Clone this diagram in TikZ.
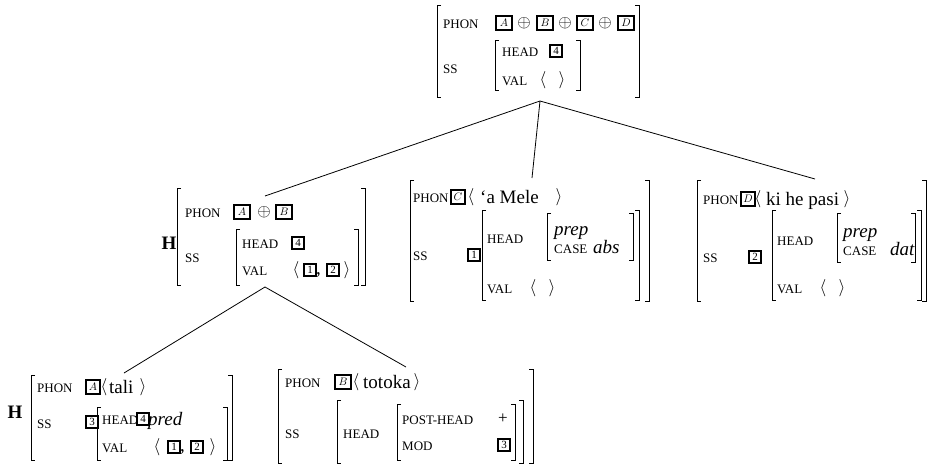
\documentclass[tikz,border=0pt]{standalone}
\usepackage{fontspec}
\setmainfont{Liberation Serif}
\begin{document}
\begin{tikzpicture}[x=1pt,y=-1pt,
  sc/.style={anchor=base west,inner sep=0,font=\fontsize{13}{14}\selectfont},
  tx/.style={anchor=base west,inner sep=0,font=\fontsize{19}{21}\selectfont},
  it/.style={anchor=base west,inner sep=0,font=\fontsize{19}{21}\selectfont\itshape},
  ang/.style={inner sep=0,font=\fontsize{17}{18}\selectfont},
  hd/.style={inner sep=0,font=\fontsize{19}{21}\selectfont\bfseries},
  tagL/.style={draw,line width=1.5pt,inner sep=0,minimum width=16,minimum height=14,font=\fontsize{11}{11}\selectfont},
  tagS/.style={tagL,minimum width=14},
  tagN/.style={draw,line width=1.5pt,inner sep=0,minimum width=12,minimum height=12,font=\fontsize{11}{11}\selectfont},
  brk/.style={line width=0.9pt},
  edge/.style={line width=0.8pt}]
\useasboundingbox (0,0) rectangle (927,466);
\newcommand\LB[3]{\draw[brk] (#1+4,#2) -- (#1,#2) -- (#1,#3) -- (#1+4,#3);}
\newcommand\RB[3]{\draw[brk] (#1-4,#2) -- (#1,#2) -- (#1,#3) -- (#1-4,#3);}
% ---------- top AVM
\LB{437}{5}{97}\RB{639}{5}{97}
\node[sc] (t-phon) at (443,28) {PHON};
\node[tagL] (t-a) at (504,23) {$A$};
\node[ang] (t-p1) at (524,23) {$\oplus$};
\node[tagL] (t-b) at (545,23) {$B$};
\node[ang] (t-p2) at (565,23) {$\oplus$};
\node[tagL] (t-c) at (585,23) {$C$};
\node[ang] (t-p3) at (605,23) {$\oplus$};
\node[tagL] (t-d) at (626,23) {$D$};
\node[sc] (t-ss) at (443,73) {SS};
\LB{495}{40}{90}\RB{580}{40}{90}
\node[sc] (t-head) at (502,56) {HEAD};
\node[tagN] (t-4) at (556,51) {4};
\node[sc] (t-val) at (502,85) {VAL};
\node[ang] (t-l) at (543,80) {$\langle$};
\node[ang] (t-r) at (562,80) {$\rangle$};
\coordinate (top-bot) at (540,101);
% ---------- A+B node
\node[hd] (ab-h) at (169,243) {H};
\LB{177}{188}{285}\RB{365}{188}{285}
\node[sc] (ab-phon) at (185,217) {PHON};
\node[tagL] (ab-a) at (242,212) {$A$};
\node[ang] (ab-p) at (264,212) {$\oplus$};
\node[tagL] (ab-b) at (284,212) {$B$};
\node[sc] (ab-ss) at (185,262) {SS};
\LB{236}{229}{285}\RB{358}{229}{285}
\node[sc] (ab-head) at (242,248) {HEAD};
\node[tagN] (ab-4) at (298,243) {4};
\node[sc] (ab-val) at (242,275) {VAL};
\node[ang] (ab-l) at (296,270) {$\langle$};
\node[tagN] (ab-1) at (310,270) {1};
\node[tx] (ab-c) at (316,274) {,};
\node[tagN] (ab-2) at (333,270) {2};
\node[ang] (ab-r) at (347,270) {$\rangle$};
\coordinate (ab-top) at (265,196);
\coordinate (ab-bot) at (265,287);
% ---------- C node
\LB{410}{180}{301}\RB{649}{180}{301}
\node[sc] (c-phon) at (413,202) {PHON};
\node[tagS] (c-c) at (458,197) {$C$};
\node[ang] (c-l1) at (471,197) {$\langle$};
\node[tx] (c-w) at (480,203) {‘a Mele};
\node[ang] (c-r1) at (559,197) {$\rangle$};
\node[sc] (c-ss) at (413,260) {SS};
\node[tagN] (c-1) at (474,255) {1};
\LB{482}{210}{300}\RB{639}{210}{300}
\node[sc] (c-head) at (487,243) {HEAD};
\LB{547}{213}{260}\RB{633}{213}{260}
\node[it] (c-prep) at (554,235) {prep};
\node[sc] (c-case) at (554,253) {CASE};
\node[it] (c-abs) at (593,253) {abs};
\node[sc] (c-val) at (487,293) {VAL};
\node[ang] (c-l2) at (533,288) {$\langle$};
\node[ang] (c-r2) at (552,288) {$\rangle$};
\coordinate (c-top) at (532,178);
% ---------- D node
\LB{697}{180}{301}\RB{926}{180}{301}
\node[sc] (d-phon) at (703,204) {PHON};
\node[tagS] (d-d) at (748,199) {$D$};
\node[ang] (d-l1) at (758,199) {$\langle$};
\node[tx] (d-w) at (766,205) {ki he pasi};
\node[ang] (d-r1) at (847,199) {$\rangle$};
\node[sc] (d-ss) at (703,262) {SS};
\node[tagN] (d-2) at (755,257) {2};
\LB{772}{210}{300}\RB{921}{210}{300}
\node[sc] (d-head) at (777,245) {HEAD};
\LB{837}{213}{262}\RB{915}{213}{262}
\node[it] (d-prep) at (843,237) {prep};
\node[sc] (d-case) at (843,255) {CASE};
\node[it] (d-dat) at (890,255) {dat};
\node[sc] (d-val) at (777,293) {VAL};
\node[ang] (d-l2) at (823,288) {$\langle$};
\node[ang] (d-r2) at (842,288) {$\rangle$};
\coordinate (d-top) at (815,179);
% ---------- bottom-left node
\node[hd] (bl-h) at (15,412) {H};
\LB{31}{375}{460}\RB{232}{375}{460}
\node[sc] (bl-phon) at (37,392) {PHON};
\node[tagS] (bl-a) at (93,387) {$A$};
\node[ang] (bl-l1) at (104,387) {$\langle$};
\node[tx] (bl-w) at (109,393) {tali};
\node[ang] (bl-r1) at (143,387) {$\rangle$};
\node[sc] (bl-ss) at (37,428) {SS};
\node[tagN] (bl-3) at (92,422) {3};
\LB{97}{407}{460}\RB{227}{407}{460}
\node[sc] (bl-head) at (102,424) {HEAD};
\node[tagN] (bl-4) at (143,419) {4};
\node[it] (bl-pred) at (148,425) {pred};
\node[sc] (bl-val) at (102,452) {VAL};
\node[ang] (bl-l2) at (157,447) {$\langle$};
\node[tagN] (bl-1) at (174,447) {1};
\node[tx] (bl-c) at (180,451) {,};
\node[tagN] (bl-2) at (197,447) {2};
\node[ang] (bl-r2) at (213,447) {$\rangle$};
\coordinate (bl-top) at (124,373);
% ---------- bottom-right node
\LB{278}{369}{463}\RB{533}{369}{463}
\node[sc] (br-phon) at (285,387) {PHON};
\node[tagL] (br-b) at (343,382) {$B$};
\node[ang] (br-l1) at (356,382) {$\langle$};
\node[tx] (br-w) at (363,388) {totoka};
\node[ang] (br-r1) at (417,382) {$\rangle$};
\node[sc] (br-ss) at (285,438) {SS};
\LB{337}{400}{463}\RB{523}{400}{463}
\node[sc] (br-head) at (343,438) {HEAD};
\LB{397}{404}{460}\RB{515}{404}{460}
\node[sc] (br-post) at (402,424) {POST-HEAD};
\node[ang] (br-plus) at (503,419) {+};
\node[sc] (br-mod) at (402,450) {MOD};
\node[tagN] (br-3) at (504,445) {3};
\coordinate (br-top) at (406,367);
% ---------- connectors
\draw[edge] (top-bot) -- (ab-top);
\draw[edge] (top-bot) -- (c-top);
\draw[edge] (top-bot) -- (d-top);
\draw[edge] (ab-bot) -- (bl-top);
\draw[edge] (ab-bot) -- (br-top);
\end{tikzpicture}
\end{document}
